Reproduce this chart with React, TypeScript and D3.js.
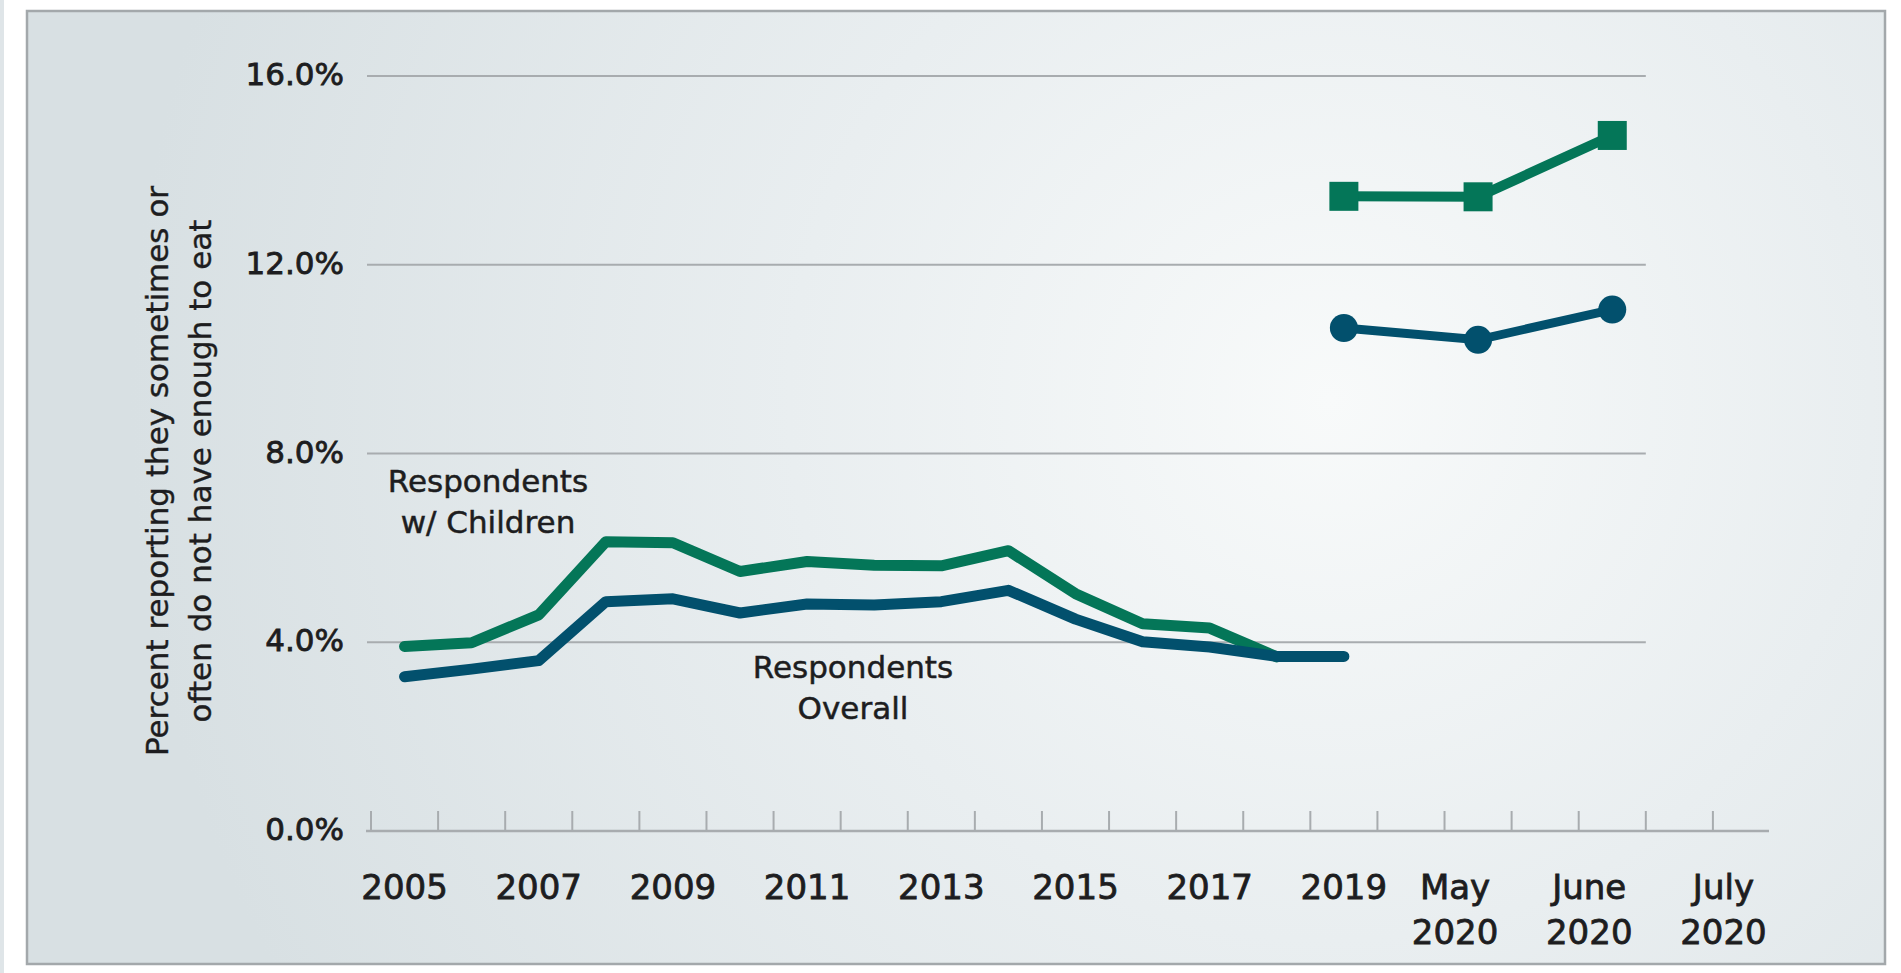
import React, { useRef, useEffect } from 'react';
import * as d3 from 'd3';

// x slots: yearly survey 2005-2019, then the 2020 pulse months with empty slots in between
const years = ['2005', '2006', '2007', '2008', '2009', '2010', '2011', '2012', '2013', '2014', '2015', '2016', '2017', '2018', '2019'];
const slots = [...years, 'gap-a', 'May 2020', 'gap-b', 'June 2020', 'gap-c', 'July 2020'];
const tickLabels = ['2005', '2007', '2009', '2011', '2013', '2015', '2017', '2019', 'May 2020', 'June 2020', 'July 2020'];

// percent reporting they sometimes or often do not have enough to eat
const childrenYears = years.slice(0, 14);
const childrenValues = [3.91, 3.99, 4.58, 6.13, 6.11, 5.5, 5.71, 5.63, 5.62, 5.94, 5.03, 4.39, 4.3, 3.69];
const overallYears = years;
const overallValues = [3.27, 3.43, 3.61, 4.86, 4.92, 4.62, 4.81, 4.79, 4.86, 5.1, 4.49, 4.01, 3.9, 3.7, 3.7];

const pulseSlots = ['2019', 'May 2020', 'June 2020'];
const pulseChildren = [13.45, 13.44, 14.74];
const pulseOverall = [10.66, 10.41, 11.05];

const yTicks = [0, 4, 8, 12, 16];

const W = 1901;
const H = 973;
const GREEN = '#047658';
const BLUE = '#02506d';
const INK = '#1d1d20';
const GRID = '#a8acaf';
const FONT = '"DejaVu Sans", Verdana, sans-serif';

export default function App() {
  const svgRef = useRef<SVGSVGElement>(null);

  useEffect(() => {
    const svg = d3.select(svgRef.current);
    svg.selectAll('*').remove();

    const x = d3.scaleBand<string>().domain(slots).range([371, 1780]).padding(0);
    const y = d3.scaleLinear().domain([0, 16]).range([831, 76]);
    const bw = x.bandwidth();
    const cx = (k: string) => (x(k) as number) + bw / 2;
    const [x0, x1] = x.range();

    // background + frame
    const defs = svg.append('defs');
    const grad = defs.append('radialGradient')
      .attr('id', 'panelBg')
      .attr('gradientUnits', 'userSpaceOnUse')
      .attr('cx', 1330).attr('cy', 400).attr('r', 1200);
    grad.append('stop').attr('offset', 0).attr('stop-color', '#f8fafa');
    grad.append('stop').attr('offset', 0.45).attr('stop-color', '#e9eef0');
    grad.append('stop').attr('offset', 1).attr('stop-color', '#d8e0e3');

    svg.append('rect').attr('width', W).attr('height', H).attr('fill', '#ffffff');
    svg.append('rect').attr('x', 0).attr('y', 0).attr('width', 4).attr('height', H).attr('fill', '#dfe5e8');
    svg.append('rect')
      .attr('x', 27).attr('y', 11).attr('width', 1858).attr('height', 953)
      .attr('fill', 'url(#panelBg)')
      .attr('stroke', '#a3a8ab').attr('stroke-width', 2.5);

    // gridlines
    const gridEnd = (x('June 2020') as number) + bw;
    svg.append('g').selectAll('line')
      .data(yTicks.filter(d => d > 0))
      .join('line')
      .attr('x1', x0 - 4).attr('x2', gridEnd)
      .attr('y1', d => y(d)).attr('y2', d => y(d))
      .attr('stroke', GRID).attr('stroke-width', 2);

    // x axis line + ticks
    svg.append('line')
      .attr('x1', x0 - 5).attr('x2', x1 - 11)
      .attr('y1', y(0)).attr('y2', y(0))
      .attr('stroke', GRID).attr('stroke-width', 2.5);
    svg.append('g').selectAll('line')
      .data(slots)
      .join('line')
      .attr('x1', d => x(d) as number).attr('x2', d => x(d) as number)
      .attr('y1', y(0) - 20).attr('y2', y(0))
      .attr('stroke', GRID).attr('stroke-width', 2);

    // y tick labels
    svg.append('g').selectAll('text')
      .data(yTicks)
      .join('text')
      .attr('x', x0 - 27)
      .attr('y', d => y(d) - 2)
      .attr('text-anchor', 'end')
      .attr('dominant-baseline', 'central')
      .attr('font-family', FONT).attr('font-size', 31).attr('fill', INK)
      .attr('stroke', INK).attr('stroke-width', 0.8)
      .text(d => d3.format('.1f')(d) + '%');

    // x tick labels (months wrap onto two lines)
    const xl = svg.append('g')
      .attr('font-family', FONT).attr('font-size', 34).attr('fill', INK)
      .attr('stroke', INK).attr('stroke-width', 0.8);
    tickLabels.forEach(lbl => {
      const parts = lbl.split(' ');
      const lx = cx(lbl) + (parts.length > 1 ? -23 : 0);
      const t = xl.append('text')
        .attr('text-anchor', 'middle')
        .attr('x', lx)
        .attr('y', 899);
      parts.forEach((p, i) => {
        t.append('tspan')
          .attr('x', lx)
          .attr('dy', i === 0 ? 0 : 45)
          .text(p);
      });
    });

    // y axis title
    const title = ['Percent reporting they sometimes or', 'often do not have enough to eat'];
    title.forEach((line, i) => {
      svg.append('text')
        .attr('transform', `translate(${157 + i * 43},471) rotate(-90)`)
        .attr('text-anchor', 'middle')
        .attr('dominant-baseline', 'central')
        .attr('font-family', FONT).attr('font-size', 31).attr('fill', INK)
        .attr('stroke', INK).attr('stroke-width', 0.4)
        .text(line);
    });

    // yearly series
    const line = d3.line<[string, number]>()
      .x(d => cx(d[0]))
      .y(d => y(d[1]));

    svg.append('path')
      .datum(d3.zip(childrenYears, childrenValues) as [string, number][])
      .attr('d', line)
      .attr('fill', 'none').attr('stroke', GREEN).attr('stroke-width', 11)
      .attr('stroke-linejoin', 'round').attr('stroke-linecap', 'round');

    svg.append('path')
      .datum(d3.zip(overallYears, overallValues) as [string, number][])
      .attr('d', line)
      .attr('fill', 'none').attr('stroke', BLUE).attr('stroke-width', 11)
      .attr('stroke-linejoin', 'round').attr('stroke-linecap', 'round');

    // 2019-2020 pulse series
    const pc = d3.zip(pulseSlots, pulseChildren) as [string, number][];
    const po = d3.zip(pulseSlots, pulseOverall) as [string, number][];

    svg.append('path').datum(pc).attr('d', line)
      .attr('fill', 'none').attr('stroke', GREEN).attr('stroke-width', 10);
    svg.append('g').selectAll('rect')
      .data(pc)
      .join('rect')
      .attr('x', d => cx(d[0]) - 14.5).attr('y', d => y(d[1]) - 14.5)
      .attr('width', 29).attr('height', 29)
      .attr('fill', GREEN);

    svg.append('path').datum(po).attr('d', line)
      .attr('fill', 'none').attr('stroke', BLUE).attr('stroke-width', 9);
    svg.append('g').selectAll('circle')
      .data(po)
      .join('circle')
      .attr('cx', d => cx(d[0])).attr('cy', d => y(d[1]))
      .attr('r', 14)
      .attr('fill', BLUE);

    // series annotations
    const notes = [
      { lines: ['Respondents', 'w/ Children'], x: 488, y: 492 },
      { lines: ['Respondents', 'Overall'], x: 853, y: 678 },
    ];
    notes.forEach(n => {
      const t = svg.append('text')
        .attr('text-anchor', 'middle')
        .attr('font-family', FONT).attr('font-size', 31).attr('fill', INK)
        .attr('stroke', INK).attr('stroke-width', 0.5);
      n.lines.forEach((l, i) => {
        t.append('tspan').attr('x', n.x).attr('y', n.y + i * 41).text(l);
      });
    });
  }, []);

  return (
    <svg
      ref={svgRef}
      width={W}
      height={H}
      style={{ position: 'absolute', left: 0, top: 0, display: 'block' }}
    />
  );
}
